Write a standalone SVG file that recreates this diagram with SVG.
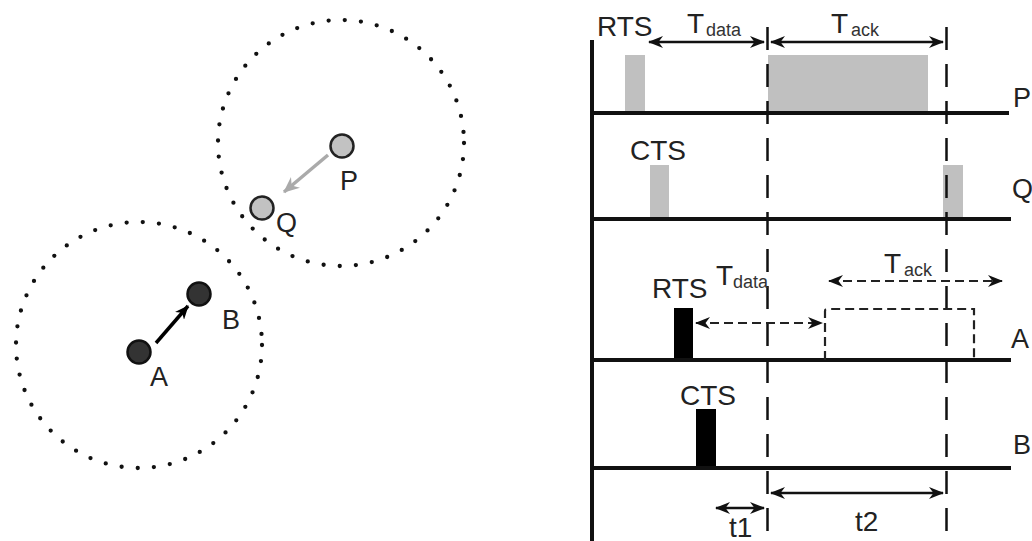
<svg xmlns="http://www.w3.org/2000/svg" width="1032" height="541" viewBox="0 0 1032 541">
  <style>
    .lbl { font-family: "Liberation Sans", Arial, sans-serif; font-size: 27px; fill: #222; }
    .big { font-family: "Liberation Sans", Arial, sans-serif; font-size: 28px; fill: #222; }
    .sub { font-family: "Liberation Sans", Arial, sans-serif; font-size: 18px; fill: #333; }
    .range { fill: none; stroke: #111; stroke-width: 4.3; stroke-dasharray: 0 16.2; stroke-linecap: round; }
    .axis { stroke: #111; stroke-width: 4; fill: none; }
    .mark { stroke: #111; stroke-width: 2.5; fill: none; stroke-dasharray: 23 14; }
    .span { stroke: #111; stroke-width: 2.5; fill: none; marker-start: url(#head); marker-end: url(#head); }
    .dspan { stroke: #222; stroke-width: 2.2; fill: none; stroke-dasharray: 9 5; marker-start: url(#head); marker-end: url(#head); }
    .busy { fill: #c0c0c0; }
    .pkt { fill: #000; }
    .light { fill: #c2c2c2; stroke: #222; stroke-width: 2.5; }
    .dark { fill: #333; stroke: #111; stroke-width: 2.5; }
  </style>
  <defs>
    <marker id="head" viewBox="0 0 15 12" refX="14" refY="6" markerWidth="15" markerHeight="12" markerUnits="userSpaceOnUse" orient="auto-start-reverse">
      <path d="M0,0 L15,6 L0,12 L4.5,6 z" fill="#111"/>
    </marker>
    <marker id="headGray" viewBox="0 0 16 14" refX="15" refY="7" markerWidth="16" markerHeight="14" markerUnits="userSpaceOnUse" orient="auto">
      <path d="M0,0 L16,7 L0,14 L5,7 z" fill="#aaa"/>
    </marker>
    <marker id="headBlack" viewBox="0 0 14 12" refX="13" refY="6" markerWidth="14" markerHeight="12" markerUnits="userSpaceOnUse" orient="auto">
      <path d="M0,0 L14,6 L0,12 L4,6 z" fill="#000"/>
    </marker>
  </defs>

  <!-- transmission ranges -->
  <g id="ranges">
    <circle class="range" cx="341" cy="143" r="123"/>
    <circle class="range" cx="139" cy="345" r="123"/>
  </g>

  <!-- transmissions between stations -->
  <g id="connectors">
    <line x1="328" y1="155" x2="284" y2="192" stroke="#aaa" stroke-width="3.5" marker-end="url(#headGray)"/>
    <line x1="156" y1="343" x2="188" y2="306" stroke="#000" stroke-width="3.5" marker-end="url(#headBlack)"/>
  </g>

  <g id="node-P">
    <circle class="light" cx="342" cy="146" r="11.5"/>
    <text class="lbl" x="340" y="190">P</text>
  </g>
  <g id="node-Q">
    <circle class="light" cx="262" cy="208" r="11.5"/>
    <text class="lbl" x="276" y="232">Q</text>
  </g>
  <g id="node-B">
    <circle class="dark" cx="199" cy="294" r="11.5"/>
    <text class="lbl" x="222" y="329">B</text>
  </g>
  <g id="node-A">
    <circle class="dark" cx="139" cy="352" r="11.5"/>
    <text class="lbl" x="150" y="386">A</text>
  </g>

  <!-- timing chart -->
  <g id="busy-periods">
    <rect class="busy" x="625" y="55" width="20" height="58"/>
    <rect class="busy" x="768" y="55" width="160" height="58"/>
    <rect class="busy" x="650" y="165" width="19" height="54"/>
    <rect class="busy" x="943" y="165" width="20" height="54"/>
    <rect class="pkt" x="674" y="308" width="19" height="52"/>
    <rect class="pkt" x="696" y="409" width="20" height="59"/>
  </g>

  <g id="time-axes">
    <line class="axis" x1="592" y1="40" x2="592" y2="541" stroke-width="3.5"/>
    <line class="axis" x1="592" y1="113" x2="1009" y2="113"/>
    <line class="axis" x1="592" y1="219" x2="1011" y2="219"/>
    <line class="axis" x1="592" y1="360" x2="1011" y2="360"/>
    <line class="axis" x1="592" y1="468" x2="1011" y2="468"/>
  </g>

  <g id="time-marks">
    <line class="mark" x1="767.5" y1="27" x2="767.5" y2="541"/>
    <line class="mark" x1="946.5" y1="27" x2="946.5" y2="541"/>
  </g>

  <g id="intervals">
    <line class="span" x1="649" y1="42" x2="764" y2="42"/>
    <line class="span" x1="771" y1="42" x2="943" y2="42"/>
    <line class="dspan" x1="696" y1="323" x2="822" y2="323"/>
    <line class="dspan" x1="829" y1="281" x2="1002" y2="281"/>
    <path d="M825,360 V311 Q825,309 827,309 H974 V360" fill="none" stroke="#222" stroke-width="2.2" stroke-dasharray="9 5"/>
    <line class="span" x1="716" y1="508" x2="764" y2="508"/>
    <line class="span" x1="771" y1="493" x2="943" y2="493"/>
  </g>

  <g id="labels">
    <text class="big" x="597" y="36">RTS</text>
    <text class="big" x="687" y="33">T</text>
    <text class="sub" x="706" y="36">data</text>
    <text class="big" x="831" y="33">T</text>
    <text class="sub" x="851" y="36">ack</text>
    <text class="lbl" x="1013" y="107">P</text>

    <text class="big" x="630" y="160">CTS</text>
    <text class="lbl" x="1012" y="198">Q</text>

    <text class="big" x="652" y="298">RTS</text>
    <text class="big" x="716" y="285">T</text>
    <text class="sub" x="733" y="288">data</text>
    <text class="big" x="884" y="273">T</text>
    <text class="sub" x="904" y="276">ack</text>
    <text class="lbl" x="1011" y="348">A</text>

    <text class="big" x="680" y="405">CTS</text>
    <text class="lbl" x="1013" y="454">B</text>

    <text class="big" x="729" y="537">t1</text>
    <text class="big" x="855" y="531">t2</text>
  </g>
</svg>
